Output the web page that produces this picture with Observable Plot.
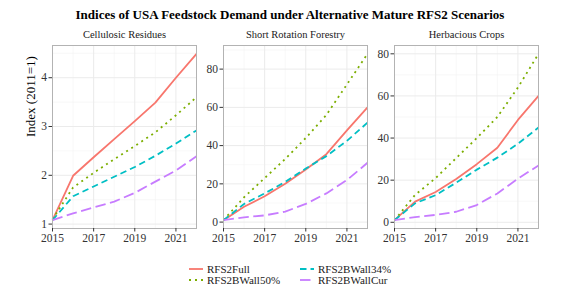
<!DOCTYPE html>
<html><head><meta charset="utf-8">
<script src="https://cdn.jsdelivr.net/npm/d3@7"></script>
<script src="https://cdn.jsdelivr.net/npm/@observablehq/plot@0.6"></script>
<style>
body{margin:0;background:#fff;font-family:"Liberation Serif","Times New Roman",serif;}
#root{position:relative;width:565px;height:296px;overflow:hidden;background:#fff;}
#title{position:absolute;left:0;width:580px;top:7px;text-align:center;font-weight:bold;font-size:13px;color:#000;white-space:nowrap;}
.leg{position:absolute;display:flex;align-items:center;font-size:11px;color:#1a1a1a;white-space:nowrap;height:11px;}
.leg svg{margin-right:4px;}
</style></head><body><div id="root"><div id="title">Indices of USA Feedstock Demand under Alternative Mature RFS2 Scenarios</div></div>
<script>
const years = [2015, 2016, 2017, 2018, 2019, 2020, 2021, 2022];
const series = ["RFS2Full", "RFS2BWall50%", "RFS2BWall34%", "RFS2BWallCur"];
const panelTitles = ["Cellulosic Residues", "Short Rotation Forestry", "Herbacious Crops"];
const colors = ["#F8766D", "#7CAE00", "#00BFC4", "#C77CFF"];
const dashes = [null, "2 4", "6.5 4", "10.5 4.5"];
const xTicks = [2015, 2017, 2019, 2021];
const xMinor = [2016, 2018, 2020, 2022];

// Cellulosic Residues
const residuesFull = [1.08, 1.99, 2.37, 2.74, 3.11, 3.49, 4.0, 4.49];
const residues50 = [1.1, 1.75, 2.05, 2.33, 2.6, 2.88, 3.23, 3.6];
const residues34 = [1.08, 1.57, 1.77, 1.97, 2.17, 2.4, 2.65, 2.92];
const residuesCur = [1.08, 1.22, 1.34, 1.46, 1.64, 1.87, 2.1, 2.39];
// Short Rotation Forestry
const forestryFull = [1, 8, 13.5, 20, 27.5, 35.5, 48, 60];
const forestry50 = [1, 13, 23, 33, 44, 56, 72, 88];
const forestry34 = [1, 9.5, 15, 21, 28, 34.5, 42.5, 52];
const forestryCur = [1, 2.5, 3.5, 5.5, 9.5, 15, 22, 31];
// Herbacious Crops
const cropsFull = [1, 9.8, 14.4, 20.6, 27.6, 35.4, 48.6, 60];
const crops50 = [1, 13, 21, 30.5, 40, 50, 64, 80];
const crops34 = [1, 9, 12.9, 18.8, 25, 30.7, 37.3, 45];
const cropsCur = [1, 2.5, 3.5, 5, 8.2, 13.7, 20.7, 27];

const residuesYTicks = [1, 2, 3, 4];
const residuesYMinor = [1.5, 2.5, 3.5, 4.5];
const otherYTicks = [0, 20, 40, 60, 80];
const otherYMinor = [10, 30, 50, 70, 90];

const root = document.getElementById("root");

function panel(values, title, yTicks, yMinor, svgLeft, plotLeft, plotRight, extra) {
  const data = [];
  series.forEach((s, i) => values[i].forEach((v, j) => data.push({series: s, year: years[j], value: v})));
  const ext = d3.extent(data, d => d.value);
  const pad = (ext[1] - ext[0]) * 0.05;
  const dom = [ext[0] - pad, ext[1] + pad];
  const minor = yMinor.filter(v => v >= dom[0] && v <= dom[1]);
  const lines = series.map((s, i) => Plot.line(data.filter(d => d.series === s), {
    x: "year", y: "value", stroke: colors[i], strokeWidth: 1.8,
    strokeDasharray: dashes[i] || undefined, strokeLinecap: "butt"
  }));
  const p = Plot.plot({
    width: plotRight - svgLeft + 3,
    height: 228,
    marginLeft: plotLeft - svgLeft,
    marginRight: 3,
    marginTop: 25,
    marginBottom: 20,
    style: {fontFamily: "Liberation Serif, Times New Roman, serif", fontSize: "11.5px", color: "#333", background: "transparent", overflow: "visible"},
    x: {domain: [2015, 2022]},
    y: {domain: dom},
    marks: [
      Plot.gridX(xMinor, {stroke: "#f4f4f4", strokeOpacity: 1, strokeWidth: 0.6}),
      Plot.gridY(minor, {stroke: "#f4f4f4", strokeOpacity: 1, strokeWidth: 0.6}),
      Plot.gridX(xTicks, {stroke: "#ebebeb", strokeOpacity: 1, strokeWidth: 1}),
      Plot.gridY(yTicks, {stroke: "#ebebeb", strokeOpacity: 1, strokeWidth: 1}),
      ...lines,
      Plot.frame({stroke: "#b3b3b3", strokeWidth: 1}),
      Plot.axisX(xTicks, {tickFormat: d => String(d), tickSize: 3.5, tickPadding: 2, label: null, stroke: "#333", fill: "#333"}),
      Plot.axisY(yTicks, {tickSize: 3.5, tickPadding: 2, label: null, stroke: "#333", fill: "#333"}),
      Plot.text([title], {frameAnchor: "top", dy: -11, fontSize: 10.5, fill: "#1a1a1a", lineAnchor: "middle"}),
      ...(extra || [])
    ]
  });
  p.style.position = "absolute";
  p.style.left = svgLeft + "px";
  p.style.top = "20px";
  root.appendChild(p);
}

panel([residuesFull, residues50, residues34, residuesCur], panelTitles[0], residuesYTicks, residuesYMinor, 0, 52, 196,
  [Plot.text(["Index (2011=1)"], {frameAnchor: "left", dx: -22, rotate: -90, fontSize: 13, fill: "#000", lineAnchor: "middle"})]);
panel([forestryFull, forestry50, forestry34, forestryCur], panelTitles[1], otherYTicks, otherYMinor, 193, 223, 367);
panel([cropsFull, crops50, crops34, cropsCur], panelTitles[2], otherYTicks, otherYMinor, 364, 394, 538);

// legend
const legPos = [[189, 263], [189, 274], [300, 263], [300, 274]];
series.forEach((s, i) => {
  const d = document.createElement("div");
  d.className = "leg";
  d.style.left = legPos[i][0] + "px";
  d.style.top = legPos[i][1] + "px";
  const dash = dashes[i] ? `stroke-dasharray="${dashes[i]}"` : "";
  d.innerHTML = `<svg width="14" height="10"><line x1="0" x2="14" y1="5" y2="5" stroke="${colors[i]}" stroke-width="1.8" ${dash}/></svg><span>${s}</span>`;
  root.appendChild(d);
});
</script></body></html>
